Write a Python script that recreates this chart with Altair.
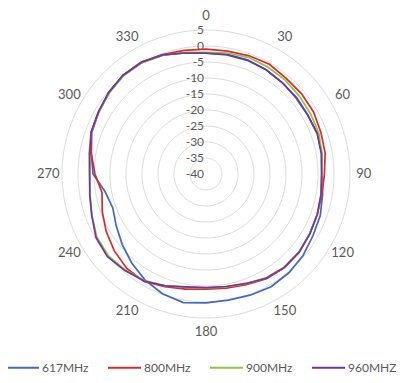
import altair as alt
import pandas as pd

# ---------------- data ----------------
angles = list(range(0, 360, 10))
series_names = ["617MHz", "800MHz", "900MHz", "960MHZ"]

s617 = [-2.2, -2.0, -2.0, -2.4, -2.8, -3.2, -3.3, -3.0, -3.3, -3.8,
        -3.0, -2.0, -1.4, -0.4, 0.3, 0.7, 0.3, 0.0, 0.3, 0.8,
        -0.2, -1.8, -3.8, -5.8, -7.6, -9.0, -8.0, -4.7, -3.6, -1.8,
        -1.2, -0.4, 0.2, 0.2, -0.5, -1.6]
s800 = [-1.0, -1.0, -0.7, -0.4, -1.0, -1.0, -1.2, -1.8, -2.2, -3.0,
        -3.2, -3.0, -2.6, -2.0, -1.8, -2.2, -3.2, -3.8, -4.0, -3.5,
        -2.5, -1.2, -1.5, -2.6, -4.0, -5.5, -7.0, -5.3, -3.6, -2.0,
        -1.3, -0.5, 0.3, 0.4, -0.3, -0.8]
s900 = [-2.0, -1.6, -1.2, -1.4, -1.6, -2.0, -2.3, -2.5, -3.2, -3.8,
        -3.5, -3.0, -2.6, -2.1, -2.0, -2.5, -3.5, -4.2, -4.4, -4.1,
        -2.8, -1.5, -0.8, -0.2, -0.6, -2.1, -3.2, -3.5, -2.9, -1.8,
        -1.3, -0.5, 0.1, 0.1, -0.5, -1.4]
s960 = [-2.2, -2.2, -2.2, -2.4, -2.8, -3.0, -3.2, -3.0, -3.4, -3.9,
        -3.5, -3.0, -2.5, -2.0, -1.9, -2.4, -3.6, -4.3, -4.5, -4.2,
        -2.8, -1.4, -0.6, 0.2, -0.3, -2.0, -3.1, -3.7, -3.1, -1.8,
        -1.2, -0.3, 0.3, 0.3, -0.4, -1.6]

ring_db = [-35, -30, -25, -20, -15, -10, -5, 0, 5]
radial_label_db = [5, 0, -5, -10, -15, -20, -25, -30, -35, -40]
angle_label_values = [0, 30, 60, 90, 120, 150, 180, 210, 240, 270, 300, 330]

series_colors = ["#4069BF", "#D92A2F", "#8DC641", "#7335A0"]

# ---------------- geometry / style ----------------
PAD_TOP = 6
W, H = 388, 360
CX, CY = 198, 160          # centre of the polar plot inside the view
PX = 3.2                   # pixels per dB
RMIN = -40                 # value at the centre
xdom = [-CX / PX, (W - CX) / PX]
ydom = [-(H - CY) / PX, CY / PX]
FONT = "Lato"
TXT = "#595959"

xs = alt.Scale(domain=xdom, nice=False, zero=False)
ys = alt.Scale(domain=ydom, nice=False, zero=False)

# ---------------- tables ----------------
rows = []
for name, vals in zip(series_names, [s617, s800, s900, s960]):
    for a, v in zip(angles, vals):
        rows.append({"series": name, "angle": a, "db": v})
df = pd.DataFrame(rows)

ring_angles = list(range(0, 360, 3))
ring_df = pd.DataFrame([{"ring": r, "angle": a, "db": r} for r in ring_db for a in ring_angles])
rad_df = pd.DataFrame({"db": radial_label_db, "label": [str(v) for v in radial_label_db]})
ang_df = pd.DataFrame({"angle": angle_label_values, "label": [str(v) for v in angle_label_values]})


def polar(chart, rexpr="datum.db - (%d)" % RMIN):
    return chart.transform_calculate(
        r=rexpr
    ).transform_calculate(
        px="datum.r * sin(datum.angle * PI / 180)",
        py="datum.r * cos(datum.angle * PI / 180)",
    )


X = alt.X("px:Q", scale=xs, axis=None)
Y = alt.Y("py:Q", scale=ys, axis=None)

rings = polar(alt.Chart(ring_df)).mark_line(
    color="#DCDCDC", strokeWidth=1, interpolate="linear-closed"
).encode(x=X, y=Y, detail="ring:N", order="angle:Q")

rad_labels = alt.Chart(rad_df).transform_calculate(
    px="-0.6", py="datum.db - (%d)" % RMIN
).mark_text(
    align="right", baseline="middle", font=FONT, fontSize=12, color=TXT
).encode(x=X, y=Y, text="label:N")

ang_labels = polar(alt.Chart(ang_df), rexpr="49.3").mark_text(
    align="center", baseline="middle", font=FONT, fontSize=13, color=TXT
).encode(x=X, y=Y, text="label:N")

lines = polar(alt.Chart(df)).mark_line(
    strokeWidth=1.7, interpolate="linear-closed"
).encode(
    x=X, y=Y, order="angle:Q",
    color=alt.Color(
        "series:N",
        scale=alt.Scale(domain=series_names, range=series_colors),
        sort=series_names,
        legend=alt.Legend(
            title=None, orient="none", legendX=-3, legendY=336,
            direction="horizontal", symbolType="stroke", symbolSize=1089,
            symbolStrokeWidth=2, labelFont=FONT, labelFontSize=12,
            labelColor=TXT, labelOffset=2, columnPadding=15, padding=0,
        ),
    ),
)

chart = alt.layer(rings, rad_labels, ang_labels, lines).properties(
    width=W, height=H, autosize=alt.AutoSizeParams(type="none"),
    padding={"left": 0, "top": PAD_TOP, "right": 0, "bottom": 0},
).configure_view(stroke=None)

chart.save("out.html", embed_options={"renderer": "svg", "actions": False})
